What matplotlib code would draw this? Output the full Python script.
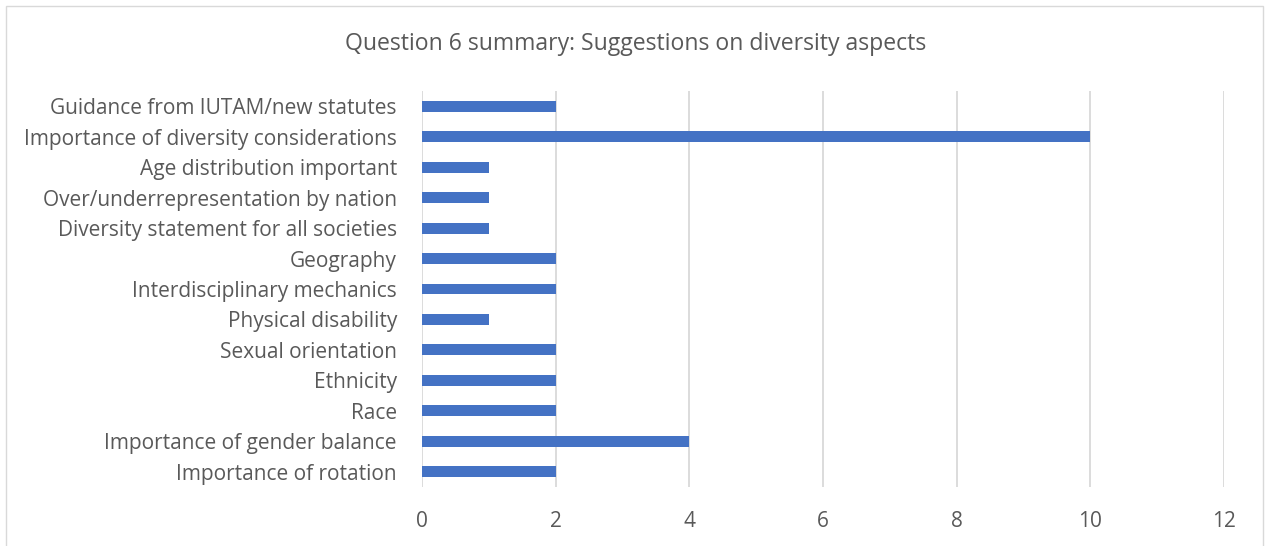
import matplotlib.pyplot as plt
from matplotlib.patches import Rectangle

categories = [
    'Importance of rotation',
    'Importance of gender balance',
    'Race',
    'Ethnicity',
    'Sexual orientation',
    'Physical disability',
    'Interdisciplinary mechanics',
    'Geography',
    'Diversity statement for all societies',
    'Over/underrepresentation by nation',
    'Age distribution important',
    'Importance of diversity considerations',
    'Guidance from IUTAM/new statutes',
]
counts = [2, 4, 2, 2, 2, 1, 2, 2, 1, 1, 1, 10, 2]
xticks = [0, 2, 4, 6, 8, 10, 12]

plt.rcParams['font.family'] = ['Open Sans', 'DejaVu Sans']
text_color = '#595959'

fig = plt.figure(figsize=(12.69, 5.46), dpi=100)
fig.patches.append(Rectangle((6 / 1269, -0.01), 1257 / 1269, 1 - 6 / 546 + 0.01,
                             transform=fig.transFigure, fill=False,
                             edgecolor='#D9D9D9', linewidth=1))
ax = fig.add_axes([422 / 1269, 1 - 487 / 546, 802 / 1269, 396 / 546])

ax.barh(range(len(categories)), counts, height=0.36, color='#4472C4', zorder=3)
ax.set_ylim(-0.5, len(categories) - 0.5)
ax.set_xlim(0, 12)
ax.set_xticks(xticks)
ax.set_yticks(range(len(categories)))
ax.set_yticklabels(categories)
ax.grid(axis='x', color='#D9D9D9', linewidth=1.3, zorder=0)
for s in ax.spines.values():
    s.set_visible(False)
ax.tick_params(axis='both', length=0, colors=text_color, labelsize=15)
ax.tick_params(axis='x', pad=17)
ax.tick_params(axis='y', pad=18)

fig.text(636 / 1269, 1 - 44 / 546, 'Question 6 summary: Suggestions on diversity aspects',
         ha='center', va='center', fontsize=16.6, color=text_color)

fig.savefig('out.png', dpi=100)
